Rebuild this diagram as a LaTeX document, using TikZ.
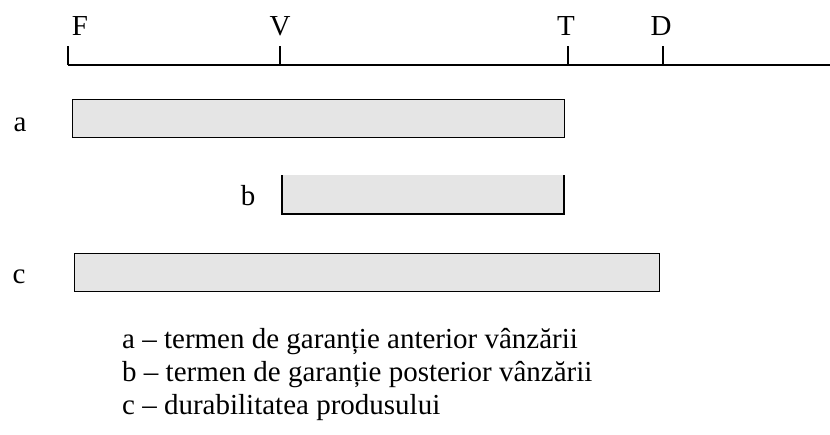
\documentclass[tikz,border=0pt]{standalone}
\usepackage{fontspec}
\setmainfont{Liberation Serif}
\begin{document}
\begin{tikzpicture}[x=1pt,y=-1pt,
  lbl/.style={font=\fontsize{29}{35}\selectfont, inner sep=0pt, anchor=base},
  leg/.style={font=\fontsize{29}{35}\selectfont, inner sep=0pt, anchor=base west},
  barbox/.style={fill=black!10, draw=black, line width=1.2pt},
  axisline/.style={line width=1.2pt}]
\useasboundingbox (0,0) rectangle (830,434);
% axis
\coordinate (A0) at (68,65);
\coordinate (A1) at (830,65);
\draw[axisline] (A0) -- (A1);
\coordinate (tF) at (68,46); \coordinate (bF) at (68,65);
\coordinate (tV) at (280,46); \coordinate (bV) at (280,65);
\coordinate (tT) at (568,46); \coordinate (bT) at (568,65);
\coordinate (tD) at (663,46); \coordinate (bD) at (663,65);
\draw[axisline] (tF) -- (bF) (tV) -- (bV) (tT) -- (bT) (tD) -- (bD);
\node[lbl] (F) at (80,35) {F};
\node[lbl] (V) at (280,35) {V};
\node[lbl] (T) at (566,35) {T};
\node[lbl] (D) at (661,35) {D};
% bars
\node[barbox, minimum width=492pt, minimum height=38pt, anchor=north west] (ba) at (72,99) {};
\fill[black!10] (282,175) rectangle (564,214);
\coordinate (b1) at (282,175); \coordinate (b2) at (282,214);
\coordinate (b3) at (564,214); \coordinate (b4) at (564,175);
\draw[line width=1.2pt] (b1) -- (b2) -- (b3) -- (b4);
\node[barbox, minimum width=585pt, minimum height=38pt, anchor=north west] (bc) at (74,253) {};
\node[lbl] (la) at (20,131) {a};
\node[lbl] (lb) at (248,205) {b};
\node[lbl] (lc) at (19,283) {c};
% legend
\node[leg] (l1) at (122,348) {a – termen de garanție anterior vânzării};
\node[leg] (l2) at (122,381) {b – termen de garanție posterior vânzării};
\node[leg] (l3) at (122,414) {c – durabilitatea produsului};
\end{tikzpicture}
\end{document}
